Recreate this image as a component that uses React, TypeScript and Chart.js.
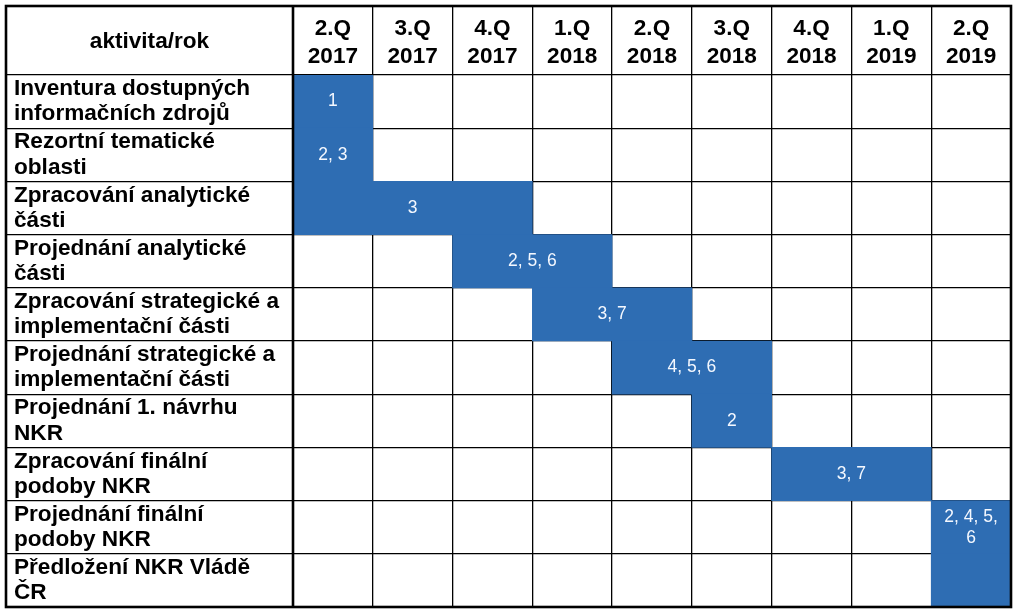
import React, { useEffect, useRef } from "react";
import { Chart, registerables } from "chart.js";

Chart.register(...registerables);

const cornerLabel = "aktivita/rok";
const quarterLabels: string[][] = [
  ["2.Q", "2017"],
  ["3.Q", "2017"],
  ["4.Q", "2017"],
  ["1.Q", "2018"],
  ["2.Q", "2018"],
  ["3.Q", "2018"],
  ["4.Q", "2018"],
  ["1.Q", "2019"],
  ["2.Q", "2019"],
];
const activityLabels: string[][] = [
  ["Inventura dostupných", "informačních zdrojů"],
  ["Rezortní tematické", "oblasti"],
  ["Zpracování analytické", "části"],
  ["Projednání analytické", "části"],
  ["Zpracování strategické a", "implementační části"],
  ["Projednání strategické a", "implementační části"],
  ["Projednání 1. návrhu", "NKR"],
  ["Zpracování finální", "podoby NKR"],
  ["Projednání finální", "podoby NKR"],
  ["Předložení NKR Vládě", "ČR"],
];
// start and end quarter index (0 = 2.Q 2017)
const spanStart: number[] = [0, 0, 0, 2, 3, 4, 5, 6, 8, 8];
const spanEnd: number[] = [1, 1, 3, 4, 5, 6, 6, 8, 9, 9];
const barTexts: string[][] = [
  ["1"],
  ["2, 3"],
  ["3"],
  ["2, 5, 6"],
  ["3, 7"],
  ["4, 5, 6"],
  ["2"],
  ["3, 7"],
  ["2, 4, 5,", "6"],
  [],
];

const FONT = "'Liberation Sans', Arial, Helvetica, sans-serif";
const BAR_COLOR = "#2e6db3";

export default function App() {
  const ref = useRef<HTMLCanvasElement>(null);

  useEffect(() => {
    const canvas = ref.current;
    if (!canvas) return;

    const barTextPlugin = {
      id: "barText",
      afterDatasetsDraw(chart: any) {
        const ctx = chart.ctx;
        const meta = chart.getDatasetMeta(0);
        ctx.save();
        ctx.fillStyle = "#f4f8ff";
        ctx.font = `17.5px ${FONT}`;
        ctx.textAlign = "center";
        ctx.textBaseline = "middle";
        meta.data.forEach((el: any, i: number) => {
          const lines = barTexts[i] || [];
          const cx = (el.x + el.base) / 2;
          const lh = 21;
          const y0 = el.y - ((lines.length - 1) * lh) / 2;
          lines.forEach((t, k) => ctx.fillText(t, cx, y0 + k * lh));
        });
        ctx.restore();
      },
    };

    const framePlugin = {
      id: "frame",
      afterDraw(chart: any) {
        const ctx = chart.ctx;
        const area = chart.chartArea;
        const xt = chart.scales.xTop;
        const left = 6;
        const top = 6;
        ctx.save();
        ctx.strokeStyle = "#000";
        ctx.lineWidth = 2.6;
        ctx.strokeRect(left, top, area.right - left, area.bottom - top);
        ctx.beginPath();
        ctx.moveTo(area.left, top);
        ctx.lineTo(area.left, area.bottom);
        ctx.stroke();
        ctx.fillStyle = "#000";
        ctx.font = `bold 22.6px ${FONT}`;
        ctx.textAlign = "center";
        ctx.textBaseline = "middle";
        ctx.fillText(cornerLabel, (left + area.left) / 2, (top + xt.bottom) / 2 + 1);
        ctx.restore();
      },
    };

    const chart = new Chart(canvas, {
      type: "bar",
      data: {
        labels: activityLabels,
        datasets: [
          {
            data: spanStart.map((s, i) => [s, spanEnd[i]]),
            backgroundColor: BAR_COLOR,
            borderWidth: 0,
            barPercentage: 1,
            categoryPercentage: 1,
            xAxisID: "x",
            yAxisID: "y",
          },
        ],
      },
      options: {
        indexAxis: "y",
        animation: false,
        responsive: false,
        devicePixelRatio: 1,
        layout: { padding: { left: 14, top: 6, right: 8, bottom: 8 } },
        plugins: {
          legend: { display: false },
          tooltip: { enabled: false },
          title: { display: false },
        },
        scales: {
          x: {
            type: "linear",
            min: 0,
            max: 9,
            display: false,
          },
          xTop: {
            type: "category",
            labels: quarterLabels as any,
            position: "top",
            offset: true,
            grid: {
              offset: true,
              color: "#000",
              lineWidth: 1.3,
              tickLength: 69,
              drawTicks: true,
            },
            border: { display: false },
            ticks: {
              autoSkip: false,
              maxRotation: 0,
              minRotation: 0,
              padding: -65,
              color: "#000",
              font: { family: FONT, size: 22.6, weight: "bold", lineHeight: 1.25 },
            },
            afterFit(scale: any) {
              scale.height = 69;
              scale.paddingLeft = 0;
              scale.paddingRight = 0;
            },
          },
          y: {
            type: "category",
            position: "left",
            offset: true,
            z: 1,
            grid: {
              offset: true,
              color: "#000",
              lineWidth: 1.3,
              tickLength: 287,
              drawTicks: true,
            },
            border: { display: false },
            ticks: {
              autoSkip: false,
              crossAlign: "far",
              color: "#000",
              font: { family: FONT, size: 22.6, weight: "bold", lineHeight: 1.12 },
            },
            afterFit(scale: any) {
              scale.width = 279;
              scale.paddingTop = 0;
              scale.paddingBottom = 0;
            },
          },
        },
      },
      plugins: [barTextPlugin, framePlugin],
    } as any);

    return () => chart.destroy();
  }, []);

  return (
    <div style={{ position: "absolute", left: 0, top: 0, width: 1019, height: 615, background: "#fff" }}>
      <canvas ref={ref} width={1019} height={615} style={{ display: "block" }} />
    </div>
  );
}
